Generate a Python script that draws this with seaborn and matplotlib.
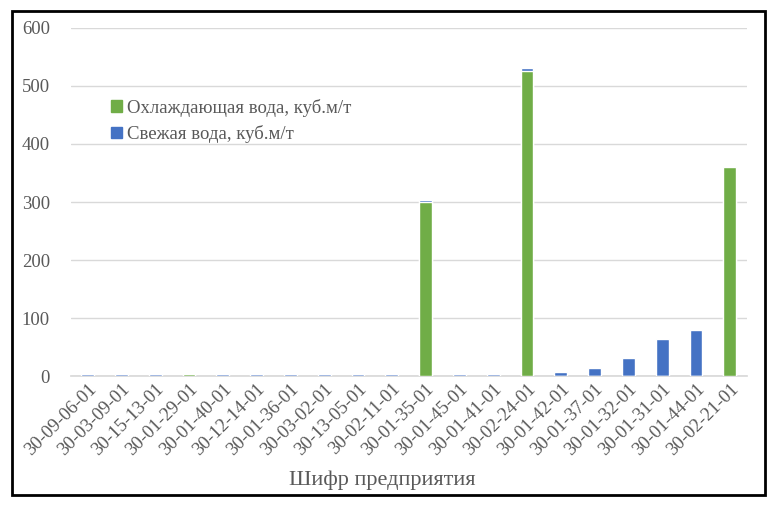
import pandas as pd
import matplotlib
matplotlib.use("Agg")
import matplotlib.pyplot as plt
import seaborn as sns
from matplotlib.patches import Rectangle, Patch

# Data
codes = ["30-09-06-01", "30-03-09-01", "30-15-13-01", "30-01-29-01", "30-01-40-01",
         "30-12-14-01", "30-01-36-01", "30-03-02-01", "30-13-05-01", "30-02-11-01",
         "30-01-35-01", "30-01-45-01", "30-01-41-01", "30-02-24-01", "30-01-42-01",
         "30-01-37-01", "30-01-32-01", "30-01-31-01", "30-01-44-01", "30-02-21-01"]
cooling = [0, 0, 0, 3.5, 0, 0, 0, 0, 0, 0, 300, 0, 0, 526, 0, 0, 0, 0, 0, 361]
fresh = [3.5, 3.5, 3.5, 0, 3.5, 3.5, 3.5, 3.5, 3, 3, 3, 3, 3, 5, 7, 14, 32, 64, 80, 0]

df = pd.DataFrame({"code": codes, "cooling": cooling, "fresh": fresh})
df["total"] = df["cooling"] + df["fresh"]

green = "#70AD47"
blue = "#4472C4"
text_col = "#595959"

sns.set_theme(style="white")
plt.rcParams["font.family"] = ["Liberation Serif", "DejaVu Serif"]

fig = plt.figure(figsize=(7.77, 5.07), dpi=100)
ax = fig.add_axes([0.091, 0.258, 0.870, 0.687])

# stacked: total in blue, cooling water drawn over it in green
sns.barplot(data=df, x="code", y="total", color=blue, width=0.38, saturation=1, ax=ax)
sns.barplot(data=df, x="code", y="cooling", color=green, width=0.38, saturation=1, ax=ax)

ax.set_ylim(0, 600)
ax.set_yticks(range(0, 601, 100))
ax.yaxis.grid(True, color="#d9d9d9", linewidth=1)
ax.set_axisbelow(True)
for s in ["top", "right", "left"]:
    ax.spines[s].set_visible(False)
ax.spines["bottom"].set_color("#d9d9d9")
ax.spines["bottom"].set_zorder(0.6)
ax.tick_params(axis="both", length=0, colors=text_col)
ax.tick_params(axis="y", labelsize=13.5, pad=15)
ax.tick_params(axis="x", labelsize=13.5, pad=3)
plt.setp(ax.get_xticklabels(), rotation=45, ha="right", rotation_mode="anchor")
ax.set_ylabel("")
ax.set_xlabel("")
fig.text(382 / 777, 1 - 480 / 507, "Шифр предприятия", fontsize=16, color=text_col,
         ha="center", va="center")

handles = [Patch(color=green, label="Охлаждающая вода, куб.м/т"),
           Patch(color=blue, label="Свежая вода, куб.м/т")]
ax.legend(handles=handles, loc="upper left", bbox_to_anchor=(0.035, 0.845), frameon=False,
          fontsize=13.5, labelcolor=text_col, handlelength=0.55, handleheight=0.55,
          handletextpad=0.3, labelspacing=0.45)

fig.patches.append(Rectangle((0.0154, 0.0237), 0.969, 0.955, transform=fig.transFigure,
                             fill=False, edgecolor="black", linewidth=2))

fig.savefig("out.png", dpi=100)
